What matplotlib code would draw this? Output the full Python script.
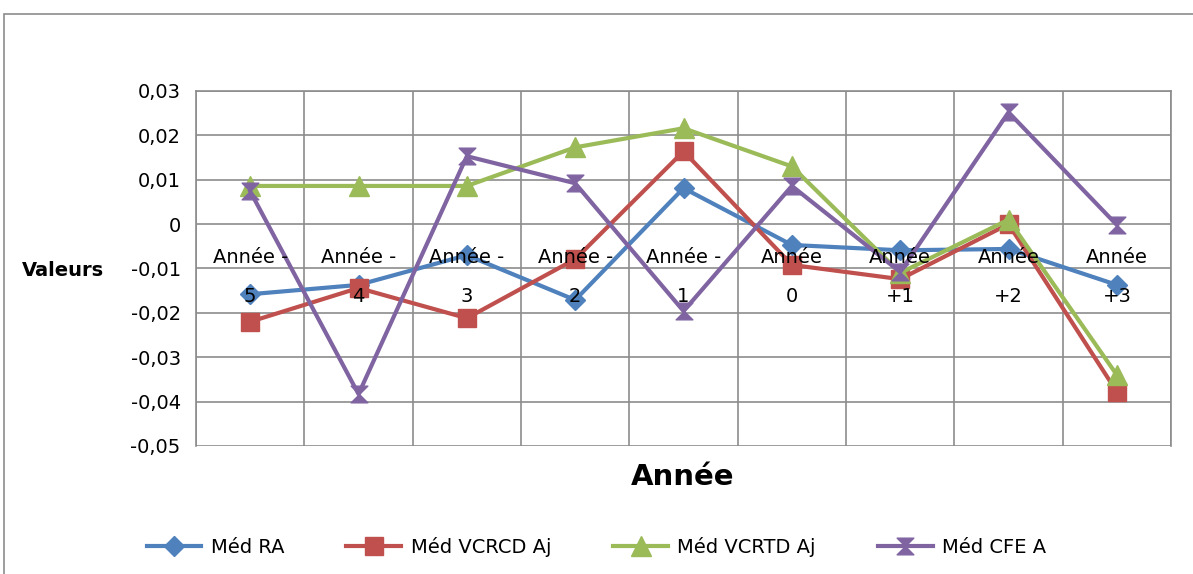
import matplotlib
matplotlib.use("Agg")
import matplotlib.pyplot as plt
from matplotlib.patches import Rectangle
from matplotlib.path import Path
from matplotlib.ticker import FuncFormatter, MultipleLocator
import numpy as np

plt.rcParams['font.family'] = ['DejaVu Sans']

categories = ["Année -\n5", "Année -\n4", "Année -\n3", "Année -\n2", "Année -\n1",
              "Année\n0", "Année\n+1", "Année\n+2", "Année\n+3"]
med_ra = [-0.0158, -0.0137, -0.0070, -0.0171, 0.0081, -0.0047, -0.0059, -0.0056, -0.0137]
med_vcrcd = [-0.0220, -0.0144, -0.0212, -0.0079, 0.0164, -0.0092, -0.0124, 0.0000, -0.0378]
med_vcrtd = [0.0086, 0.0086, 0.0086, 0.0173, 0.0216, 0.0130, -0.0110, 0.0010, -0.0340]
med_cfe = [0.0074, -0.0383, 0.0153, 0.0092, -0.0196, 0.0086, -0.0108, 0.0252, -0.0002]

# hourglass marker like Excel's
hourglass = Path([(-1, 1), (1, 1), (0, 0), (1, -1), (-1, -1), (0, 0), (-1, 1)],
                 [Path.MOVETO, Path.LINETO, Path.LINETO, Path.LINETO,
                  Path.LINETO, Path.LINETO, Path.CLOSEPOLY])

fig = plt.figure(figsize=(11.93, 5.74), dpi=100)
fig.patches.append(Rectangle((4 / 1193, -0.01), 1.0, 1 - 14 / 574 + 0.01,
                             transform=fig.transFigure, fill=False,
                             edgecolor="#8c8c8c", linewidth=1.2))
ax = fig.add_axes([0.1643, 0.223, 0.8173, 0.6185])

x = np.arange(len(categories))
ax.plot(x, med_ra, color="#4F81BD", lw=3, marker="D", ms=10, label="Méd RA", zorder=3)
ax.plot(x, med_vcrcd, color="#C0504D", lw=3, marker="s", ms=13, label="Méd VCRCD Aj", zorder=3)
ax.plot(x, med_vcrtd, color="#9BBB59", lw=3, marker="^", ms=14, label="Méd VCRTD Aj", zorder=3)
ax.plot(x, med_cfe, color="#8064A2", lw=3, marker=hourglass, ms=12, label="Méd CFE A", zorder=3)

ax.set_xlim(-0.5, len(categories) - 0.5)
ax.set_ylim(-0.05, 0.03)
ax.yaxis.set_major_locator(MultipleLocator(0.01))
ax.yaxis.set_major_formatter(FuncFormatter(
    lambda v, p: "0" if abs(v) < 1e-9 else f"{v:.2f}".replace(".", ",")))
ax.set_xticks(x)
ax.set_xticklabels(categories)
ax.tick_params(axis="x", length=0, labelsize=14, pad=17)
ax.tick_params(axis="y", labelsize=14, length=0, pad=11)

# grid drawn by hand so the category labels can sit above the lines
for b in np.arange(-0.5, len(categories)):
    ax.axvline(b, color="#8c8c8c", lw=1.2, zorder=1)
for v in np.arange(-0.05, 0.031, 0.01):
    ax.axhline(v, color="#8c8c8c", lw=1.2, zorder=1)
ax.xaxis.set_zorder(5)

ax.spines['bottom'].set_position(('data', 0))
for s in ax.spines.values():
    s.set_color("#8c8c8c")
    s.set_linewidth(1.2)
ax.spines['bottom'].set_visible(False)

fig.text(0.053, 0.528, "Valeurs", fontsize=14, fontweight="bold", ha="center", va="center")
fig.text(0.572, 0.169, "Année", fontsize=21, fontweight="bold", ha="center", va="center")

fig.legend(loc="center", bbox_to_anchor=(0.500, 0.047), ncol=4, frameon=False,
           fontsize=14, handlelength=2.8, handletextpad=0.5, columnspacing=3.2)

fig.canvas.draw()
for t in ax.xaxis.get_major_ticks():
    t.label1.set_linespacing(2.33)

fig.savefig("out.png", dpi=100)
